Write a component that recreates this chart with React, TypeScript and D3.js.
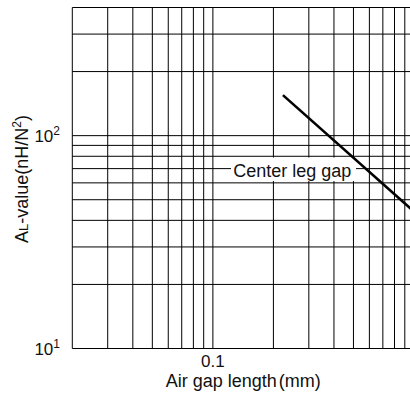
import React from "react";
import * as d3 from "d3";

const xGrid = [0.02, 0.03, 0.04, 0.05, 0.06, 0.07, 0.08, 0.09, 0.1, 0.2, 0.3, 0.4, 0.5, 0.6, 0.7, 0.8, 0.9, 1];
const yGrid = [10, 20, 30, 40, 50, 60, 70, 80, 90, 100, 200, 300, 400];
const xTickLabels = [
  { v: 0.1, t: "0.1" },
  { v: 1, t: "1" },
];
const yTickLabels = [
  { v: 10, exp: "1" },
  { v: 100, exp: "2" },
];
const gapLength = [0.223, 1];
const alValue = [155, 44];
const seriesLabel = "Center leg gap";

const W = 410;
const H = 396;
const FONT = "'Liberation Sans', Arial, Helvetica, sans-serif";

export default function App() {
  const x = d3.scaleLog().domain([0.02, 1]).range([72.3, 414]);
  const y = d3.scaleLog().domain([10, 400]).range([348.5, 7.5]);
  const line = d3
    .line<number>()
    .x((_, i) => x(gapLength[i]))
    .y((d) => y(d));
  const path = line(alValue) || "";

  return (
    <svg
      width={W}
      height={H}
      style={{ position: "absolute", left: 0, top: 0, background: "#fff" }}
      fontFamily={FONT}
    >
      <rect x={0} y={0} width={W} height={H} fill="#fff" />
      {xGrid.map((v) => (
        <line key={"x" + v} x1={x(v)} x2={x(v)} y1={y(400)} y2={y(10)} stroke="#000" strokeWidth={1} />
      ))}
      {yGrid.map((v) => (
        <line key={"y" + v} x1={x(0.02)} x2={x(1)} y1={y(v)} y2={y(v)} stroke="#000" strokeWidth={1} />
      ))}
      <rect x={231} y={157.5} width={125} height={23.5} fill="#fff" />
      <text x={233.3} y={176.5} fontSize={18} fill="#111">
        {seriesLabel}
      </text>
      <path d={path} fill="none" stroke="#000" strokeWidth={2.6} />
      {yTickLabels.map((d) => (
        <text key={d.v} x={60} y={y(d.v) + 6.5} fontSize={17} textAnchor="end" fill="#111">
          10
          <tspan fontSize={12} dy={-7}>
            {d.exp}
          </tspan>
        </text>
      ))}
      {xTickLabels.map((d) => (
        <text key={d.t} x={x(d.v)} y={367.3} fontSize={17} textAnchor="middle" fill="#111">
          {d.t}
        </text>
      ))}
      <text x={243.3} y={386.7} fontSize={18} textAnchor="middle" fill="#111">
        Air gap length<tspan dx={2}>(mm)</tspan>
      </text>
      <text transform="translate(28,179) rotate(-90)" fontSize={18} textAnchor="middle" fill="#111">
        A<tspan fontSize={13}>L</tspan>-value(nH/N<tspan fontSize={12} dy={-7}>2</tspan>
        <tspan dy={7}>)</tspan>
      </text>
    </svg>
  );
}
